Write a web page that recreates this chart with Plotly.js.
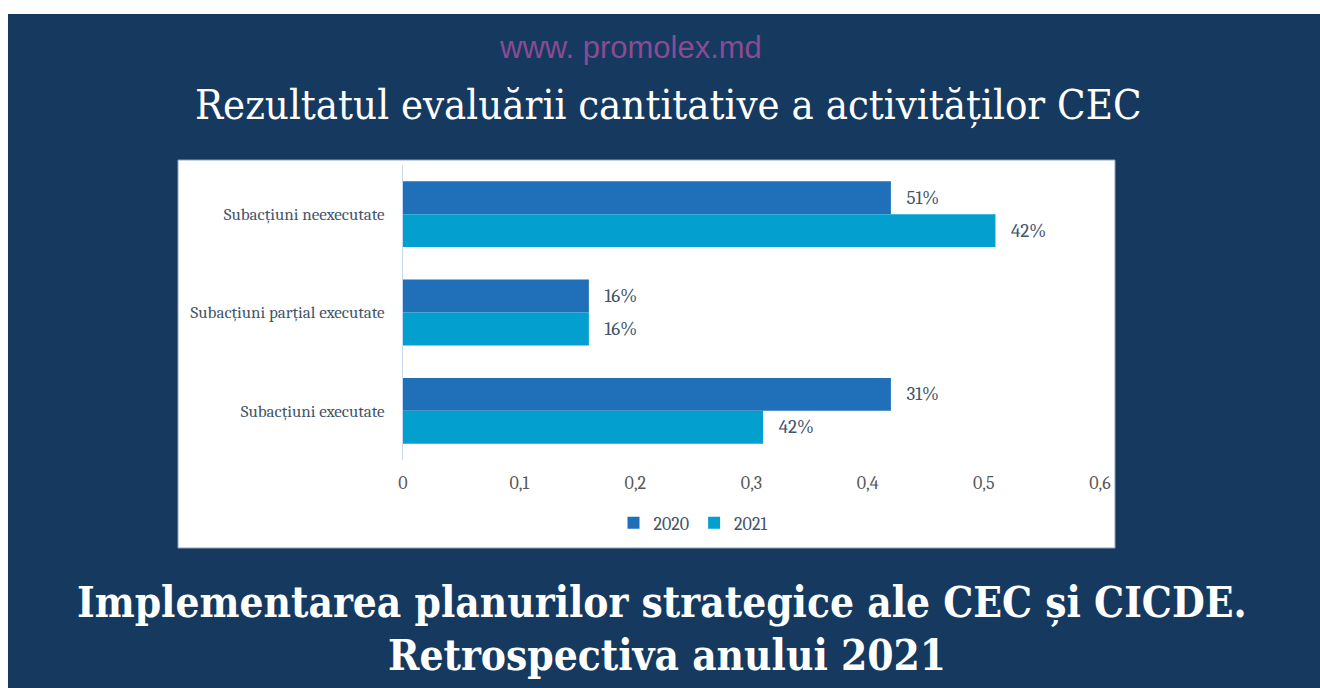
<!DOCTYPE html>
<html><head><meta charset="utf-8">
<script src="https://cdn.plot.ly/plotly-3.0.1.min.js"></script>
<style>html,body{margin:0;padding:0;background:#fff}#chart{width:1320px;height:688px}</style>
</head><body><div id="chart"></div>
<script>
const categories = ['Subacțiuni neexecutate', 'Subacțiuni parțial executate', 'Subacțiuni executate'];
const values2020 = [0.42, 0.16, 0.42];
const values2021 = [0.51, 0.16, 0.31];
const labels2020 = ['51%', '16%', '31%'];
const labels2021 = ['42%', '16%', '42%'];
const seriesNames = ['2020', '2021'];

const W = 1320, H = 688;
const px = x => x / W, py = y => 1 - y / H;
const serif = 'Cambria, "Liberation Serif", "DejaVu Serif", serif';
const labelColor = '#44546a';

const traces = [
  {type:'bar', orientation:'h', name:seriesNames[0], y:categories, x:values2020, text:labels2020,
   texttemplate:'   %{text}', textposition:'outside', cliponaxis:false, marker:{color:'#1f70b8'},
   textfont:{family:serif, size:19, color:labelColor}, hoverinfo:'x+y'},
  {type:'bar', orientation:'h', name:seriesNames[1], y:categories, x:values2021, text:labels2021,
   texttemplate:'   %{text}', textposition:'outside', cliponaxis:false, marker:{color:'#03a0cf'},
   textfont:{family:serif, size:19, color:labelColor}, hoverinfo:'x+y'}
];

const layout = {
  width: W, height: H,
  margin:{l:0, r:0, t:0, b:0},
  paper_bgcolor:'#ffffff', plot_bgcolor:'rgba(0,0,0,0)',
  separators: ', ',
  barmode:'group', bargap:0.33, bargroupgap:0,
  showlegend:true,
  legend:{orientation:'h', x:px(693), xanchor:'center', y:py(523), yanchor:'middle',
          font:{family:serif, size:18, color:labelColor}, bgcolor:'rgba(0,0,0,0)', itemwidth:30},
  xaxis:{domain:[px(403), px(1100)], range:[0, 0.6], dtick:0.1, tick0:0, showgrid:false, zeroline:false,
         showline:false, ticks:'', tickfont:{family:serif, size:18, color:'#595959'}, fixedrange:true,
         anchor:'y', ticklabelstandoff:10},
  yaxis:{domain:[py(460), py(165)], autorange:'reversed', type:'category', showgrid:false, zeroline:false,
         showline:true, linecolor:'#c6d9f0', linewidth:1, ticks:'', ticklabelstandoff:14,
         tickfont:{family:serif, size:17, color:labelColor}, fixedrange:true},
  shapes:[
    {type:'rect', xref:'paper', yref:'paper', x0:px(8), x1:1, y0:0, y1:py(14), fillcolor:'#15395f', line:{width:0}, layer:'below'},
    {type:'rect', xref:'paper', yref:'paper', x0:px(178), x1:px(1115), y0:py(548), y1:py(160), fillcolor:'#ffffff', line:{color:'#8ea3bb', width:1}, layer:'below'}
  ],
  annotations:[
    {text:'www. promolex.md', xref:'paper', yref:'paper', x:px(630), y:py(47), xanchor:'center', yanchor:'middle', showarrow:false,
     font:{family:'"Liberation Sans Narrow", "Liberation Sans", Arial, sans-serif', size:31, color:'#8a4b92'}},
    {text:'Rezultatul evaluării cantitative a activităților CEC', xref:'paper', yref:'paper', x:px(668), y:py(104), xanchor:'center', yanchor:'middle', showarrow:false,
     font:{family:'"DejaVu Serif Condensed", "DejaVu Serif", serif', size:41.5, color:'#ffffff'}},
    {text:'<b>Implementarea planurilor strategice ale CEC și CICDE.</b>', xref:'paper', yref:'paper', x:px(662), y:py(602), xanchor:'center', yanchor:'middle', showarrow:false,
     font:{family:'"DejaVu Serif Condensed", "DejaVu Serif", serif', size:42, color:'#ffffff'}},
    {text:'<b>Retrospectiva anului 2021</b>', xref:'paper', yref:'paper', x:px(667), y:py(655), xanchor:'center', yanchor:'middle', showarrow:false,
     font:{family:'"DejaVu Serif Condensed", "DejaVu Serif", serif', size:42, color:'#ffffff'}}
  ]
};
Plotly.newPlot('chart', traces, layout, {displayModeBar:false, staticPlot:true});
</script></body></html>
